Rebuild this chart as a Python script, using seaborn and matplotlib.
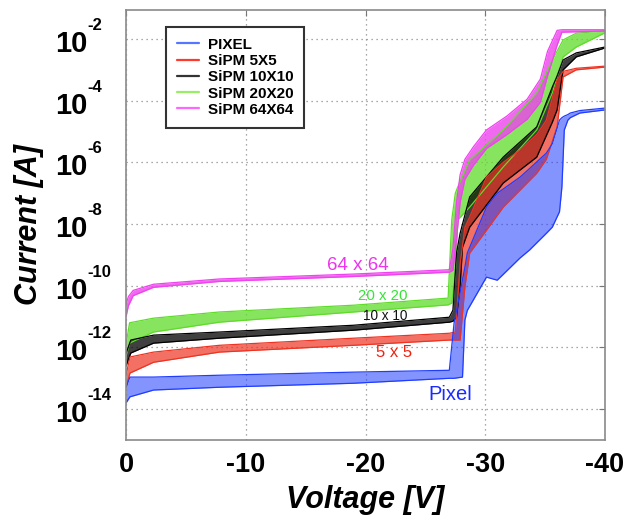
import numpy as np
import matplotlib
matplotlib.use("Agg")
import matplotlib.pyplot as plt
import matplotlib.transforms as mtransforms
from matplotlib.lines import Line2D
from matplotlib.ticker import NullLocator
import seaborn as sns

# --- data: voltage grid + log10(current) of lower / upper edge of each bundle ---
pixel_v = [0, -0.33, -2.3, -7.8, -19, -27.0, -27.4, -28.1, -28.3, -28.5, -30.1, -31.0,
           -32.9, -33.7, -35.1, -35.6, -36.2, -36.4, -36.6, -36.9, -37.1, -37.9, -40]
pixel_hi = [-13.3, -12.96, -12.96, -12.9, -12.8, -12.74, -11.2, -9.8, -9.4, -8.94, -7.45, -7.0,
            -6.48, -6.2, -5.7, -5.4, -4.63, -4.55, -4.5, -4.45, -4.4, -4.32, -4.24]
pixel_lo = [-13.8, -13.6, -13.38, -13.29, -13.16, -13.0, -13.0, -12.96, -11.11, -10.8, -9.72, -9.82,
            -9.1, -8.84, -8.3, -8.1, -7.6, -6.8, -4.95, -4.63, -4.55, -4.4, -4.3]

red_v = [0, -0.33, -2.3, -7.8, -19, -27.0, -27.5, -27.9, -28.3, -28.7, -30.1, -31.5,
         -32.9, -34.3, -35.1, -36.0, -36.5, -37.6, -40]
red_hi = [-12.9, -12.31, -12.15, -11.93, -11.7, -11.54, -11.5, -9.3, -8.1, -7.77, -6.48, -6.0,
          -5.6, -5.1, -4.63, -3.33, -3.05, -2.95, -2.88]
red_lo = [-13.3, -12.83, -12.48, -12.15, -11.93, -11.76, -11.76, -11.76, -10.04, -8.94, -8.2, -7.45,
          -6.9, -6.35, -5.9, -4.85, -3.23, -3.0, -2.91]

black_v = [0, -0.4, -2.3, -7.8, -19, -27.0, -27.3, -27.6, -27.9, -28.1, -28.7, -31.5,
           -34.3, -35.6, -36.0, -36.5, -37.6, -40]
black_hi = [-12.2, -11.76, -11.6, -11.5, -11.28, -11.02, -10.79, -8.94, -8.3, -8.0, -7.12, -5.83,
            -4.85, -3.56, -3.2, -2.68, -2.45, -2.26]
black_lo = [-12.6, -12.18, -11.86, -11.7, -11.44, -11.18, -11.15, -11.02, -10.04, -8.75, -8.1, -6.67,
            -5.83, -4.7, -4.3, -3.0, -2.58, -2.29]

green_v = [0, -0.3, -2.3, -7.8, -19, -26.9, -27.2, -27.5, -27.7, -28.7, -31.5, -34.3,
           -35.6, -36.5, -37.6, -40]
green_hi = [-11.9, -11.2, -11.05, -10.85, -10.63, -10.4, -7.87, -7.0, -6.8, -5.92, -4.95, -3.75,
            -2.68, -2.03, -1.81, -1.74]
green_lo = [-12.3, -11.86, -11.5, -11.18, -10.85, -10.62, -10.56, -9.6, -7.87, -7.45, -6.15, -4.95,
            -3.75, -2.58, -2.26, -1.8]

mag_v = [0, -0.2, -0.6, -2.3, -7.8, -19, -27.0, -27.3, -27.6, -27.9, -28.3, -29.0,
         -30.1, -31.8, -33.5, -34.6, -35.2, -36.0, -36.4, -40]
mag_hi = [-10.6, -10.35, -10.15, -9.95, -9.78, -9.62, -9.48, -8.8, -7.3, -6.4, -5.9, -5.5,
          -4.95, -4.5, -3.95, -3.3, -2.4, -1.72, -1.7, -1.7]
mag_lo = [-11.0, -10.65, -10.32, -10.05, -9.86, -9.7, -9.56, -9.5, -8.5, -7.3, -6.55, -6.1,
          -5.55, -5.1, -4.6, -4.05, -3.2, -2.2, -1.78, -1.74]

legend_labels = ["PIXEL", "SiPM 5X5", "SiPM 10X10", "SiPM 20X20", "SiPM 64X64"]
annot_text = ["Pixel", "5 x 5", "10 x 10", "20 x 20", "64 x 64"]
annot_v = [-27.06, -22.38, -21.67, -21.42, -19.33]
annot_exp = [-13.71, -12.31, -11.11, -10.47, -9.49]

x_ticks = [0, -10, -20, -30, -40]
y_exponents = [-14, -12, -10, -8, -6, -4, -2]

# --- style ---
line_colors = ["#1f3cff", "#ee3322", "#000000", "#5fdc2a", "#ee44ee"]
band_alpha = [0.55, 0.7, 0.75, 0.75, 0.8]
legend_colors = ["#5577ff", "#ff3a2a", "#333333", "#99ee66", "#ff66ff"]
text_colors = ["#1a2aff", "#ee2211", "#111111", "#33e633", "#ee33ee"]
text_sizes = [14.5, 12, 9.8, 10.8, 13.5]
draw_order = [3, 2, 1, 0, 4]  # green, black, red, pixel, then 64x64 on top

families = [
    (pixel_v, pixel_lo, pixel_hi),
    (red_v, red_lo, red_hi),
    (black_v, black_lo, black_hi),
    (green_v, green_lo, green_hi),
    (mag_v, mag_lo, mag_hi),
]

sns.set_theme(style="white")
plt.rcParams["font.family"] = ["Liberation Sans", "DejaVu Sans"]
plt.rcParams["text.color"] = "black"
plt.rcParams["axes.labelcolor"] = "black"

fig = plt.figure(figsize=(6.35, 5.22), dpi=100)
ax = fig.add_axes([126 / 635, 82 / 522, 479 / 635, 430 / 522])
ax.set_yscale("log")

for i in draw_order:
    v, lo, hi = families[i]
    v = np.array(v)
    lo = np.power(10.0, lo)
    hi = np.power(10.0, hi)
    ax.fill_between(v, lo, hi, color=line_colors[i], alpha=band_alpha[i], lw=0)
    sns.lineplot(x=v, y=lo, ax=ax, color=line_colors[i], lw=0.9, estimator=None, sort=False)
    sns.lineplot(x=v, y=hi, ax=ax, color=line_colors[i], lw=0.9, estimator=None, sort=False)

for i, txt in enumerate(annot_text):
    ax.text(annot_v[i], 10.0 ** annot_exp[i], txt, color=text_colors[i],
            fontsize=text_sizes[i], ha="center", va="baseline")

ax.set_xlim(0, -40)
ax.set_ylim(1e-15, 10 ** -1.06)

ax.set_xticks(x_ticks)
ax.set_xticklabels([str(t) for t in x_ticks], fontsize=19.5, fontweight="bold")
for lab in ax.get_xticklabels():
    if lab.get_text().startswith("-"):
        lab.set_transform(lab.get_transform()
                          + mtransforms.ScaledTranslation(-7 / 100, 0, fig.dpi_scale_trans))

ax.set_yticks([10.0 ** e for e in y_exponents])
ax.set_yticklabels([])
ax.yaxis.set_minor_locator(NullLocator())
ytrans = ax.get_yaxis_transform()
for e in y_exponents:
    ax.annotate("10", xy=(0, 10.0 ** e), xycoords=ytrans, xytext=(-71, -13),
                textcoords="offset pixels", ha="left", va="baseline", color="black",
                fontsize=21, fontweight="bold", annotation_clip=False)
    ax.annotate(str(e), xy=(0, 10.0 ** e), xycoords=ytrans, xytext=(-39, 9),
                textcoords="offset pixels", ha="left", va="baseline", color="black",
                fontsize=12, fontweight="bold", annotation_clip=False)

ax.tick_params(axis="both", which="major", direction="in", length=4, width=0.8,
               color="#777777", labelcolor="black", top=True, right=True)
ax.tick_params(axis="x", pad=9)

ax.grid(True, which="major", linestyle=(0, (1, 3)), color="#8c8c8c", linewidth=0.9)
ax.set_axisbelow(True)
for sp in ax.spines.values():
    sp.set_color("#8a8a8a")
    sp.set_linewidth(1.2)

ax.set_xlabel("Voltage [V]", fontsize=22, fontweight="bold", fontstyle="italic", color="black")
ax.xaxis.set_label_coords(0.5, -0.1047)
ax.set_ylabel("Current [A]", fontsize=22, fontweight="bold", fontstyle="italic", color="black")
ax.yaxis.set_label_coords(-0.171, 0.5)

handles = [Line2D([], [], color=c, lw=1.6) for c in legend_colors]
leg = ax.legend(handles, legend_labels, loc="upper left", bbox_to_anchor=(0.0835, 0.9605),
                borderaxespad=0, frameon=True, fancybox=False, edgecolor="#333333",
                framealpha=1, prop={"weight": "bold", "size": 11},
                handlelength=1.45, handletextpad=0.6, borderpad=0.7, labelspacing=0.15)
for t in leg.get_texts():
    t.set_color("black")
leg.get_frame().set_linewidth(1.5)

fig.savefig("out.png", dpi=100)
